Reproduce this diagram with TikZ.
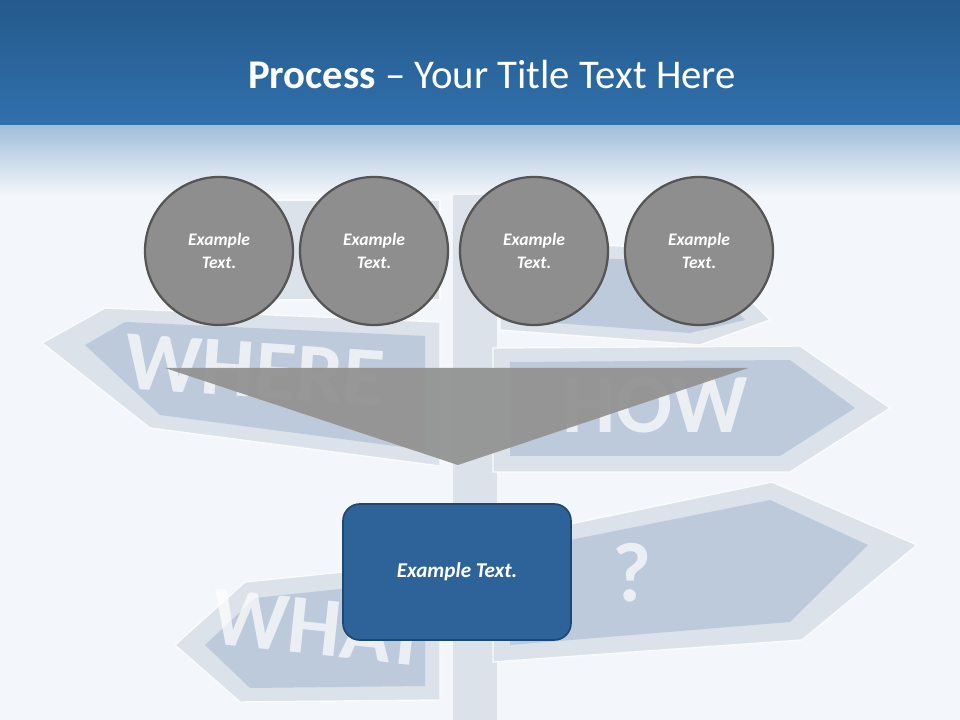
\documentclass[tikz,border=0pt]{standalone}
\usepackage{fontspec}
\setmainfont{Carlito}
\usetikzlibrary{positioning}
\definecolor{bandtop}{HTML}{245A8C}
\definecolor{bandbot}{HTML}{3070AC}
\definecolor{slidebg}{HTML}{F3F6FA}
\definecolor{signrim}{HTML}{DCE2E9}
\definecolor{signface}{HTML}{BCCADC}
\definecolor{circfill}{HTML}{8E8E8E}
\definecolor{circline}{HTML}{555555}
\definecolor{boxfill}{HTML}{2E6399}
\definecolor{boxline}{HTML}{1F4870}
\tikzset{
  sign/.style={fill=signrim, draw=white!85!signrim, line width=1pt},
  face/.style={fill=signface},
  signword/.style={text=white, font=\bfseries\fontsize{60}{60}\selectfont, opacity=0.7},
  stepcirc/.style={circle, minimum size=148*0.025cm, fill=circfill, draw=circline, line width=1.6pt,
    text=white, font=\bfseries\itshape\fontsize{12.5}{16}\selectfont, align=center},
  resultbox/.style={rounded corners=12pt, minimum width=228*0.025cm, minimum height=136*0.025cm,
    fill=boxfill, draw=boxline, line width=1.2pt, text=white, font=\bfseries\itshape\fontsize{15}{18}\selectfont}
}
\begin{document}
\begin{tikzpicture}[x=0.025cm, y=-0.025cm]
  \useasboundingbox (0,0) rectangle (960,720);
  \fill[slidebg] (0,0) rectangle (960,720);
  % sign post and signs
  \fill[signrim] (453,120) rectangle (497,720);
  \draw[sign] (42,343) -- (105,308) -- (440,322) -- (440,466) -- (150,428) -- cycle;
  \fill[face] (85,345) -- (125,322) -- (425,336) -- (425,450) -- (160,415) -- cycle;
  \draw[sign] (493,348) -- (800,346) -- (890,408) -- (790,472) -- (493,472) -- cycle;
  \fill[face] (510,362) -- (790,360) -- (855,408) -- (780,456) -- (510,456) -- cycle;
  \draw[sign] (493,540) -- (772,482) -- (917,545) -- (802,640) -- (493,662) -- cycle;
  \fill[face] (510,552) -- (770,500) -- (868,545) -- (790,622) -- (510,645) -- cycle;
  \draw[sign] (175,645) -- (245,582) -- (440,562) -- (440,700) -- (240,702) -- cycle;
  \fill[face] (205,645) -- (255,598) -- (425,580) -- (425,686) -- (250,688) -- cycle;
  \draw[sign] (250,200) -- (250,300) -- (440,300) -- (440,200) -- cycle;
  \draw[sign] (500,240) -- (700,250) -- (770,320) -- (700,345) -- (500,330) -- cycle;
  \fill[face] (515,255) -- (690,262) -- (745,320) -- (690,333) -- (515,320) -- cycle;
  \node[signword, rotate=-4] (where) at (255,370) {WHERE};
  \node[signword] (how) at (655,405) {HOW};
  \node[signword, rotate=-6] (what) at (320,628) {WHAT};
  \node[signword] (qmark) at (632,573) {?};
  % title band
  \fill[top color=bandtop, bottom color=bandbot] (0,0) rectangle (960,126);
  \fill[top color=bandbot!45!white, bottom color=slidebg] (0,126) rectangle (960,195);
  \node[text=white, font=\fontsize{29}{34}\selectfont] (title) at (492,74)
    {\textbf{Process} -- Your Title Text Here};
  % steps
  \node[stepcirc] (c1) at (219,251) {Example\\Text.};
  \node[stepcirc] (c2) at (374,251) {Example\\Text.};
  \node[stepcirc] (c3) at (534,251) {Example\\Text.};
  \node[stepcirc] (c4) at (699,251) {Example\\Text.};
  \fill[gray!85!white, opacity=0.95] (165,368) -- (748,368) -- (458,465) -- cycle;
  \node[resultbox] (res) at (457,572) {Example Text.};
\end{tikzpicture}
\end{document}
